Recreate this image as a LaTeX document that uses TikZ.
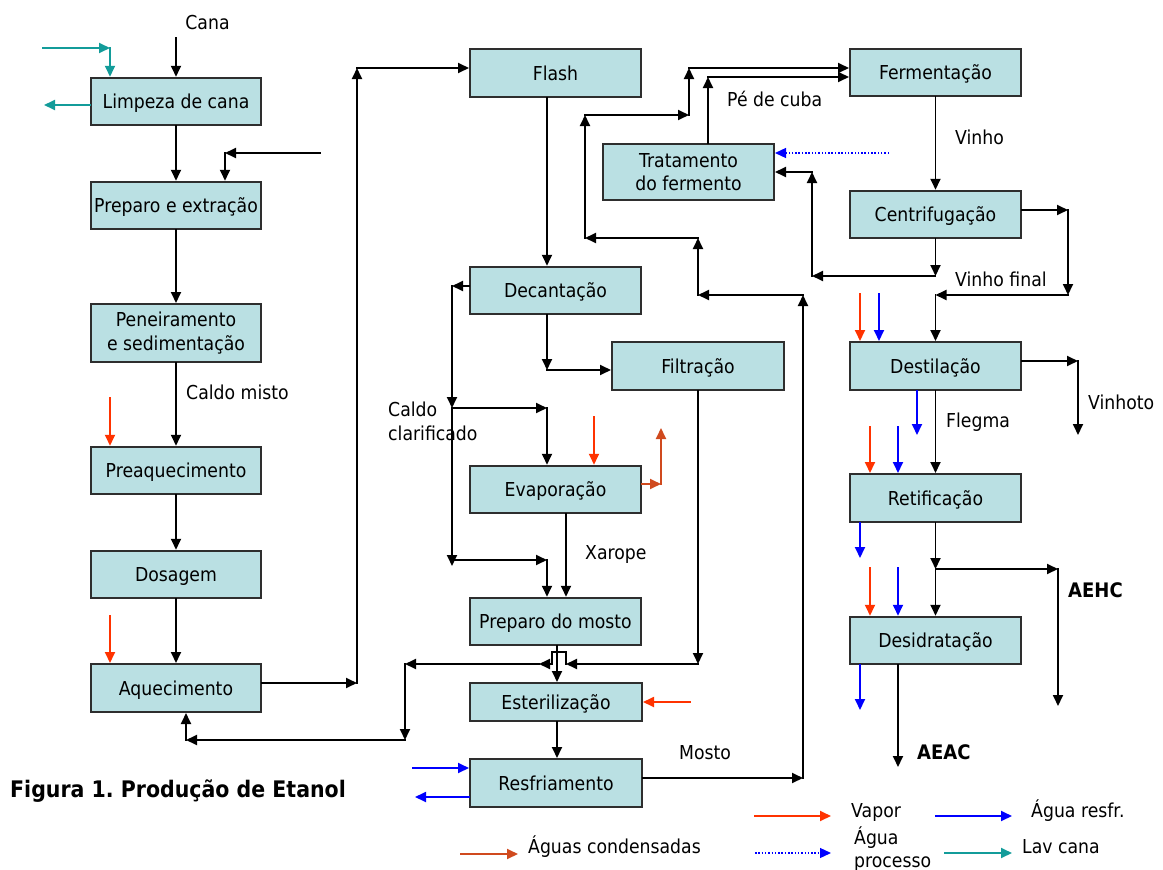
\documentclass[tikz,border=0pt]{standalone}
\usepackage{fontspec}
\setmainfont{DejaVu Sans}[FakeStretch=0.9]
\usetikzlibrary{arrows.meta}
\definecolor{boxfill}{HTML}{BAE0E3}
\definecolor{boxline}{HTML}{2E2E2E}
\definecolor{vapor}{HTML}{FF3300}
\definecolor{cond}{HTML}{D04A1E}
\definecolor{agua}{HTML}{0000FF}
\definecolor{lav}{HTML}{139C9A}
\frenchspacing
\begin{document}
\begin{tikzpicture}[x=1pt,y=-1pt,
  font=\fontsize{19.2}{23.5}\selectfont,
  box/.style={draw=boxline, fill=boxfill, line width=2pt, minimum width=171pt,
    minimum height=47.5pt, inner sep=0pt, text height=14pt, text depth=0pt},
  boxtwo/.style={draw=boxline, fill=boxfill, line width=2pt, minimum width=171pt,
    inner sep=0pt, align=center},
  ln/.style={line width=1.8pt, line cap=rect},
  arr/.style={ln, -{Triangle[length=11pt,width=10pt]}},
  varr/.style={arr, color=vapor},
  carr/.style={arr, color=cond},
  warr/.style={arr, color=agua},
  tarr/.style={arr, color=lav},
  parr/.style={line width=1.3pt, color=agua, dash pattern=on 1.5pt off 1.8pt,
    -{Triangle[length=11pt,width=10pt]}},
  lbl/.style={anchor=base west, inner sep=0pt},
  bld/.style={anchor=base west, inner sep=0pt, font=\fontsize{20}{24}\selectfont\bfseries},
]
\useasboundingbox (0,0) rectangle (1163,870);

% ---------- boxes ----------
\node[box, minimum width=170pt] (lim) at (176,101.5) {Limpeza de cana};
\node[box, minimum width=170pt] (prep) at (176,205.5) {Preparo e extração};
\node[boxtwo, minimum width=170pt, minimum height=58pt] (pen) at (176,333) {Peneiramento\\e sedimentação};
\node[box, minimum width=170pt] (preaq) at (176,470.5) {Preaquecimento};
\node[box, minimum width=170pt] (dos) at (176,574.5) {Dosagem};
\node[box, minimum width=170pt, minimum height=48pt] (aq) at (176,688) {Aquecimento};
\node[box] (flash) at (555.5,73) {Flash};
\node[box] (dec) at (555.5,290.5) {Decantação};
\node[box, minimum width=172pt, minimum height=48pt] (filt) at (698,366) {Filtração};
\node[box] (evap) at (555.5,489.5) {Evaporação};
\node[box] (pmosto) at (555.5,621.5) {Preparo do mosto};
\node[box, minimum width=172pt, minimum height=38pt] (est) at (556,702) {Esterilização};
\node[box, minimum width=172pt, minimum height=48pt] (resf) at (556,783) {Resfriamento};
\node[boxtwo, minimum height=56pt] (trat) at (688.5,172) {Tratamento\\do fermento};
\node[box] (ferm) at (935.5,72.5) {Fermentação};
\node[box] (cent) at (935.5,214.5) {Centrifugação};
\node[box, minimum height=48pt] (dest) at (935.5,366) {Destilação};
\node[box, minimum height=48pt] (ret) at (935.5,498) {Retificação};
\node[box] (desid) at (935.5,640.5) {Desidratação};

% ---------- coordinates ----------
\coordinate (cana) at (176,38);
\coordinate (tin1) at (43,48);
\coordinate (tin2) at (110,48);
\coordinate (tout) at (44,105);
\coordinate (rec1) at (320,153);
\coordinate (rec2) at (225,153);
\coordinate (v1) at (110,398);
\coordinate (v2) at (110,616);
\coordinate (aqr) at (357,683);
\coordinate (aqt) at (357,68);
\coordinate (fx) at (547,0);
\coordinate (dl) at (452,286);
\coordinate (dm) at (452,408);
\coordinate (db) at (452,566);
\coordinate (de1) at (547,408);
\coordinate (dp1) at (452,560);
\coordinate (dp2) at (547,560);
\coordinate (df) at (547,370);
\coordinate (v3) at (594,417);
\coordinate (c1) at (661,484);
\coordinate (c2) at (661,428);
\coordinate (ex) at (566,0);
\coordinate (f1) at (698,664);
\coordinate (h1) at (566,664);
\coordinate (h2) at (566,652);
\coordinate (h3) at (552,652);
\coordinate (h4) at (552,664);
\coordinate (h5) at (539,664);
\coordinate (r1) at (405,664);
\coordinate (r2) at (405,740);
\coordinate (r3) at (186,740);
\coordinate (px) at (557,0);
\coordinate (v4) at (690,702);
\coordinate (w1) at (413,768);
\coordinate (w2) at (415,797);
\coordinate (m1) at (803,778);
\coordinate (m2) at (803,295);
\coordinate (m3) at (698,295);
\coordinate (m4) at (698,238);
\coordinate (m5) at (585,238);
\coordinate (m6) at (585,115);
\coordinate (m7) at (689,115);
\coordinate (m8) at (689,68);
\coordinate (p1) at (708,77);
\coordinate (pa) at (889,153);
\coordinate (k1) at (935.5,276);
\coordinate (k2) at (812,276);
\coordinate (k3) at (812,172);
\coordinate (q1) at (1068,210);
\coordinate (q2) at (1068,295);
\coordinate (q3) at (935.5,295);
\coordinate (vd1) at (860,294);
\coordinate (vd2) at (879,294);
\coordinate (s1) at (1078,361);
\coordinate (s2) at (1078,435);
\coordinate (bw1) at (917,435);
\coordinate (vr1) at (870,427);
\coordinate (vr2) at (898,427);
\coordinate (bw2) at (860,558);
\coordinate (e1) at (935.5,569);
\coordinate (e2) at (1058,569);
\coordinate (e3) at (1058,706);
\coordinate (vs1) at (870,568);
\coordinate (vs2) at (898,568);
\coordinate (bw3) at (860,710);
\coordinate (ae) at (898,767);
\coordinate (L1a) at (461,854);
\coordinate (L1b) at (518,854);
\coordinate (L2a) at (755,816);
\coordinate (L2b) at (831,816);
\coordinate (L3a) at (936,816);
\coordinate (L3b) at (1012,816);
\coordinate (L4a) at (755,853);
\coordinate (L4b) at (831,853);
\coordinate (L5a) at (945,853);
\coordinate (L5b) at (1012,853);

% ---------- left column ----------
\draw[arr] (cana) -- (lim.north);
\draw[tarr] (tin1) -- (tin2);
\draw[tarr] (tin2) -- (tin2 |- lim.north);
\draw[tarr] (tout -| lim.west) -- (tout);
\draw[arr] (lim.south) -- (prep.north);
\draw[arr] (rec1) -- (rec2);
\draw[arr] (rec2) -- (rec2 |- prep.north);
\draw[arr] (prep.south) -- (pen.north);
\draw[arr] (pen.south) -- (preaq.north);
\draw[varr] (v1) -- (v1 |- preaq.north);
\draw[arr] (preaq.south) -- (dos.north);
\draw[arr] (dos.south) -- (aq.north);
\draw[varr] (v2) -- (v2 |- aq.north);
\draw[arr] (aqr -| aq.east) -- (aqr);
\draw[arr] (aqr) -- (aqt);
\draw[arr] (aqt) -- (aqt -| flash.west);

% ---------- middle column ----------
\draw[arr] (flash.south -| fx) -- (dec.north -| fx);
\draw[arr] (dl -| dec.west) -- (dl);
\draw[arr] (dl) -- (dm);
\draw[arr] (dm) -- (db);
\draw[arr] (dm) -- (de1);
\draw[arr] (de1) -- (de1 |- evap.north);
\draw[arr] (dp1) -- (dp2);
\draw[arr] (dp2) -- (dp2 |- pmosto.north);
\draw[arr] (dec.south -| fx) -- (df);
\draw[arr] (df) -- (df -| filt.west);
\draw[varr] (v3) -- (v3 |- evap.north);
\draw[carr] (c1 -| evap.east) -- (c1);
\draw[carr] (c1) -- (c2);
\draw[arr] (evap.south -| ex) -- (pmosto.north -| ex);
\draw[arr] (filt.south -| f1) -- (f1);
\draw[arr] (f1) -- (h1);
\draw[ln] (h1) -- (h2) -- (h3) -- (h4);
\draw[arr] (h4) -- (h5);
\draw[arr] (h5) -- (r1);
\draw[arr] (r1) -- (r2);
\draw[arr] (r2) -- (r3);
\draw[arr] (r3) -- (r3 |- aq.south);
\draw[arr] (pmosto.south -| px) -- (est.north -| px);
\draw[varr] (v4) -- (v4 -| est.east);
\draw[arr] (est.south -| px) -- (resf.north -| px);
\draw[warr] (w1) -- (w1 -| resf.west);
\draw[warr] (w2 -| resf.west) -- (w2);

% ---------- mosto to fermentation ----------
\draw[arr] (m1 -| resf.east) -- (m1);
\draw[arr] (m1) -- (m2);
\draw[arr] (m2) -- (m3);
\draw[arr] (m3) -- (m4);
\draw[arr] (m4) -- (m5);
\draw[arr] (m5) -- (m6);
\draw[arr] (m6) -- (m7);
\draw[arr] (m7) -- (m8);
\draw[arr] (m8) -- (m8 -| ferm.west);
\draw[arr] (trat.north -| p1) -- (p1);
\draw[arr] (p1) -- (p1 -| ferm.west);
\draw[parr] (pa) -- (pa -| trat.east);

% ---------- right column ----------
\draw[arr] (ferm.south) -- (cent.north);
\draw[arr] (cent.south) -- (k1);
\draw[arr] (k1) -- (k2);
\draw[arr] (k2) -- (k3);
\draw[arr] (k3) -- (k3 -| trat.east);
\draw[arr] (q1 -| cent.east) -- (q1);
\draw[arr] (q1) -- (q2);
\draw[arr] (q2) -- (q3);
\draw[arr] (q3) -- (dest.north);
\draw[varr] (vd1) -- (vd1 |- dest.north);
\draw[warr] (vd2) -- (vd2 |- dest.north);
\draw[arr] (s1 -| dest.east) -- (s1);
\draw[arr] (s1) -- (s2);
\draw[warr] (dest.south -| bw1) -- (bw1);
\draw[arr] (dest.south) -- (ret.north);
\draw[varr] (vr1) -- (vr1 |- ret.north);
\draw[warr] (vr2) -- (vr2 |- ret.north);
\draw[warr] (ret.south -| bw2) -- (bw2);
\draw[arr] (ret.south) -- (e1);
\draw[arr] (e1) -- (desid.north);
\draw[arr] (e1) -- (e2);
\draw[arr] (e2) -- (e3);
\draw[varr] (vs1) -- (vs1 |- desid.north);
\draw[warr] (vs2) -- (vs2 |- desid.north);
\draw[warr] (desid.south -| bw3) -- (bw3);
\draw[arr] (desid.south -| ae) -- (ae);

% ---------- labels ----------
\node[anchor=base, inner sep=0pt] (tcana) at (207.5,30) {Cana};
\node[lbl] (tcm) at (186,399) {Caldo misto};
\node[lbl, align=left] (tcc) at (388,440) {Caldo\\clarificado};
\node[lbl] (txa) at (585,559) {Xarope};
\node[lbl] (tpc) at (727,106) {Pé de cuba};
\node[lbl] (tvi) at (955,144) {Vinho};
\node[lbl] (tvf) at (955,286) {Vinho final};
\node[lbl] (tvh) at (1088,409) {Vinhoto};
\node[lbl] (tfl) at (946,427) {Flegma};
\node[bld] (taehc) at (1068,597) {AEHC};
\node[bld] (taeac) at (917,759) {AEAC};
\node[lbl] (tmo) at (679,759) {Mosto};
\node[lbl, font=\fontsize{22.8}{26}\selectfont\bfseries] (tfig) at (10,797) {Figura 1. Produção de Etanol};

% ---------- legend ----------
\draw[carr] (L1a) -- (L1b);
\node[lbl] (tl1) at (528,853) {Águas condensadas};
\draw[varr] (L2a) -- (L2b);
\node[lbl] (tl2) at (851,817) {Vapor};
\draw[warr] (L3a) -- (L3b);
\node[lbl] (tl3) at (1031,817) {Água resfr.};
\draw[parr] (L4a) -- (L4b);
\node[lbl, align=left, font=\fontsize{19.2}{23}\selectfont] (tl4) at (854,867) {Água\\processo};
\draw[tarr] (L5a) -- (L5b);
\node[lbl] (tl5) at (1022,853) {Lav cana};
\end{tikzpicture}
\end{document}
